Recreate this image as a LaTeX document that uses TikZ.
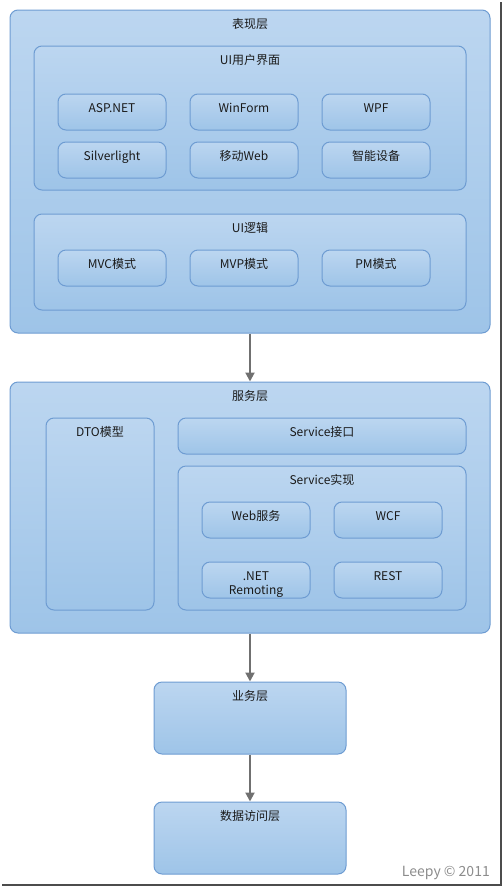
\documentclass[tikz,border=0pt]{standalone}
\usepackage{fontspec}
\setmainfont{Noto Sans CJK SC}
\usetikzlibrary{arrows.meta}
\definecolor{boxTop}{RGB}{188,214,240}
\definecolor{boxBot}{RGB}{158,196,232}
\definecolor{boxLine}{RGB}{110,156,210}
\definecolor{textDark}{RGB}{26,26,26}
\definecolor{arrowGray}{RGB}{112,112,112}
\tikzstyle{layerBox}=[draw=boxLine,top color=boxTop,bottom color=boxBot,rounded corners=8pt,line width=1pt]
\tikzstyle{itemBox}=[layerBox,minimum width=108pt,minimum height=36pt,text=textDark,text height=9pt,text depth=8pt,inner sep=0pt]
\tikzstyle{titleText}=[text=textDark,inner sep=0pt]
\tikzstyle{flow}=[-{Triangle[length=9pt,width=9pt]},line width=2pt,draw=arrowGray]

\begin{document}
\begin{tikzpicture}[x=1pt,y=-1pt,font=\fontsize{12pt}{14pt}\selectfont]

    \useasboundingbox (0,0) rectangle (503,887);
    \draw[black!70,line width=2pt] (2,885) -- (501,885) -- (501,2);

    % presentation layer
    \node[layerBox,minimum width=480pt,minimum height=323pt] (pres) at (250, 171.5) {};
    \node[titleText] (presTitle) at (250, 24) {表现层};
    \node[layerBox,minimum width=432pt,minimum height=144pt] (uiUser) at (250, 118) {};
    \node[titleText] (uiUserTitle) at (250, 60) {UI用户界面};
    \node[itemBox] (asp) at (112, 112) {ASP.NET};
    \node[itemBox] (winform) at (244, 112) {WinForm};
    \node[itemBox] (wpf) at (376, 112) {WPF};
    \node[itemBox] (silver) at (112, 160) {Silverlight};
    \node[itemBox] (mobile) at (244, 160) {移动Web};
    \node[itemBox] (smart) at (376, 160) {智能设备};
    \node[layerBox,minimum width=432pt,minimum height=96pt] (uiLogic) at (250, 262) {};
    \node[titleText] (uiLogicTitle) at (250, 228) {UI逻辑};
    \node[itemBox] (mvc) at (112, 268) {MVC模式};
    \node[itemBox] (mvp) at (244, 268) {MVP模式};
    \node[itemBox] (pm) at (376, 268) {PM模式};

    % service layer
    \node[layerBox,minimum width=480pt,minimum height=251pt] (service) at (250, 507.5) {};
    \node[titleText] (serviceTitle) at (250, 396) {服务层};
    \node[layerBox,minimum width=108pt,minimum height=192pt] (dto) at (100, 514) {};
    \node[titleText] (dtoTitle) at (100, 432) {DTO模型};
    \node[itemBox,minimum width=288pt] (svcIf) at (322, 436) {Service接口};
    \node[layerBox,minimum width=288pt,minimum height=144pt] (svcImpl) at (322, 538) {};
    \node[titleText] (svcImplTitle) at (322, 480) {Service实现};
    \node[itemBox] (web) at (256, 520) {Web服务};
    \node[itemBox] (wcf) at (388, 520) {WCF};
    \node[itemBox,align=center,text height=29pt,text depth=0pt] (remoting) at (256, 580) {.NET\\Remoting};
    \node[itemBox] (rest) at (388, 580) {REST};

    % business and data layers
    \node[layerBox,minimum width=192pt,minimum height=72pt] (biz) at (250, 718) {};
    \node[titleText] (bizTitle) at (250, 696) {业务层};
    \node[layerBox,minimum width=192pt,minimum height=72pt] (data) at (250, 838) {};
    \node[titleText] (dataTitle) at (250, 816) {数据访问层};

    \node[text=black!45,inner sep=0pt,anchor=east,font=\fontsize{14pt}{16pt}\selectfont] (credit) at (490, 873) {Leepy © 2011};

    \draw[flow] (pres.south) -- (service.north);
    \draw[flow] (service.south) -- (biz.north);
    \draw[flow] (biz.south) -- (data.north);

\end{tikzpicture}
\end{document}
